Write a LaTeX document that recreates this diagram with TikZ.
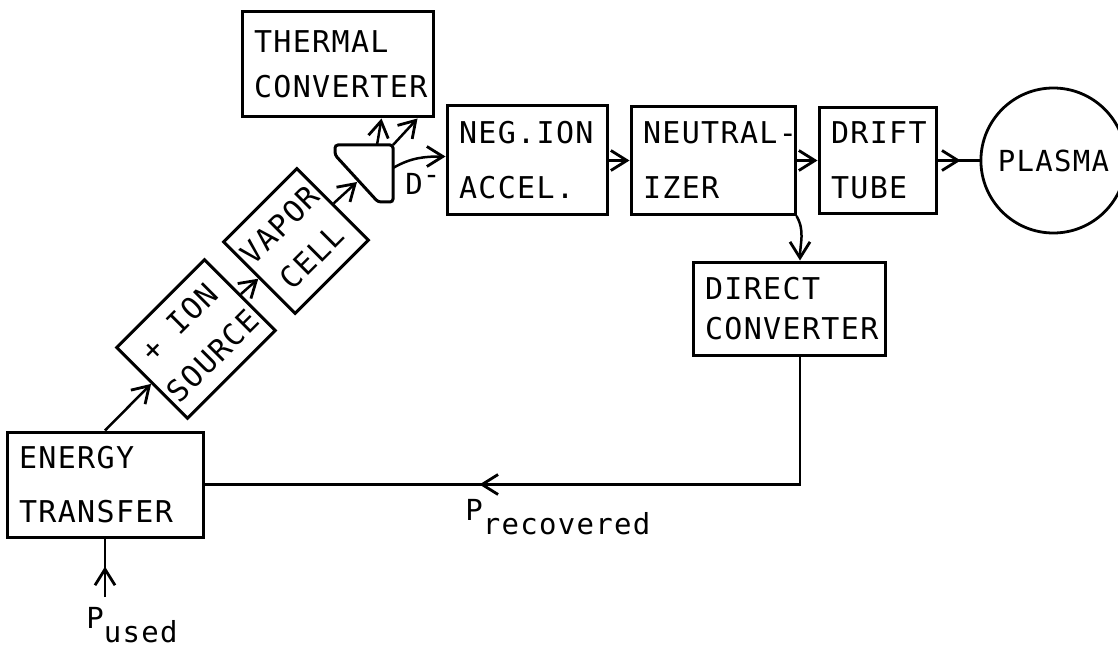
\documentclass[tikz,border=0pt]{standalone}
\usepackage{fontspec}
\usepackage{tikz}
\usetikzlibrary{arrows.meta, positioning, decorations.markings, calc}
\newfontfamily\diagfont{DejaVu Sans Mono}[LetterSpace=4.5]
\newcommand{\boxfont}{\diagfont\fontsize{15pt}{20pt}\selectfont}
\newcommand{\lblfont}{\diagfont\fontsize{14.5pt}{17pt}\selectfont}
\hyphenpenalty=10000
\exhyphenpenalty=10000

\begin{document}
\begin{tikzpicture}[
    x=0.5pt, y=0.5pt,
    box/.style={rectangle, draw, line width=1.5pt, font=\boxfont, align=left, inner xsep=6pt, inner ysep=2pt},
    tilted/.style={box, rotate=45, align=center, inner xsep=2pt},
    plasmabox/.style={circle, draw, line width=1.4pt, font=\lblfont, minimum size=72.5pt, inner sep=0pt},
    arrow/.style={-{Straight Barb[length=8pt,width=10pt,line width=1.4pt]}, line width=1.25pt},
    midarrow/.style={line width=1.25pt, postaction={decorate}, decoration={markings, mark=at position #1 with {\arrow{Straight Barb[length=8pt,width=10pt,line width=1.4pt]}}}},
    lbl/.style={inner sep=0pt, font=\lblfont}
]
    \useasboundingbox (0,0) rectangle (1118,-652);

    % Beam line
    \node[box, text width=68pt, minimum height=54.5pt] (neg) at (527,-160.5) {NEG.ION\\[7.5pt]ACCEL.};
    \node[box, text width=70pt, minimum height=54pt, right=10.5pt of neg] (neut) {NEUTRAL-\\[7.5pt]IZER};
    \node[box, text width=46.5pt, minimum height=53pt, right=10.5pt of neut] (drift) {DRIFT\\[7.5pt]TUBE};
    \node[plasmabox, right=21pt of drift] (plasma) {PLASMA};

    % Converters
    \node[box, text width=83.5pt, minimum height=52.5pt] (therm) at (337.5,-64.5) {THERMAL\\[2.5pt]CONVERTER};
    \node[box, text width=84pt, minimum height=46.5pt] (dc) at (789,-308.5) {DIRECT\\CONVERTER};
    \node[box, text width=86pt, minimum height=52.5pt] (et) at (105,-484.5) {ENERGY\\[7pt]TRANSFER};

    % Source side
    \node[tilted, minimum width=62pt, minimum height=50pt] (ion) at (196,-339) {+ ION\\[4pt]SOURCE};
    \node[tilted, minimum width=51.5pt, minimum height=50.5pt] (vapor) at (296,-241) {VAPOR\\[2.5pt]CELL};

    % Deflecting magnet
    \draw[line width=1.5pt, rounded corners=1.5pt] (335,-145) -- (393,-145) coordinate (magtr) -- (393,-202) -- (378,-202) -- (335,-155) -- cycle;
    \coordinate (magin) at (357,-182);
    \coordinate (magup) at (377,-145);
    \coordinate (magout) at (393,-168);
    \coordinate (pbot) at (105,-597);

    % Labels
    \node[lbl, anchor=base west] (dlab) at (405,-195) {D\raisebox{5pt}{-}};
    \node[lbl, anchor=base west] (prec) at (465,-520) {P\raisebox{-7pt}{recovered}};
    \node[lbl, anchor=base west] (pused) at (86,-628) {P\raisebox{-7pt}{used}};

    % Arrows
    \draw[arrow] (et.north) -- (ion.west);
    \draw[arrow] (ion.east) -- (vapor.west);
    \draw[arrow] (vapor.east) -- (magin);
    \draw[arrow] (magup) -- ([xshift=22pt]therm.south);
    \draw[arrow] (magtr) -- ([xshift=40pt]therm.south);
    \draw[arrow] (magout) to[out=30, in=180] ([yshift=2pt]neg.west);
    \draw[arrow] (neg) -- (neut);
    \draw[arrow] (neut) -- (drift);
    \draw[midarrow=0.55] (drift) -- (plasma);
    \draw[arrow] (neut.south east) to[out=-60, in=90] ([xshift=5.5pt]dc.north);
    \draw[midarrow=0.62] ([xshift=5.5pt]dc.south) |- (et.east);
    \draw[midarrow=0.52] (pbot) -- (et.south);

\end{tikzpicture}
\end{document}
